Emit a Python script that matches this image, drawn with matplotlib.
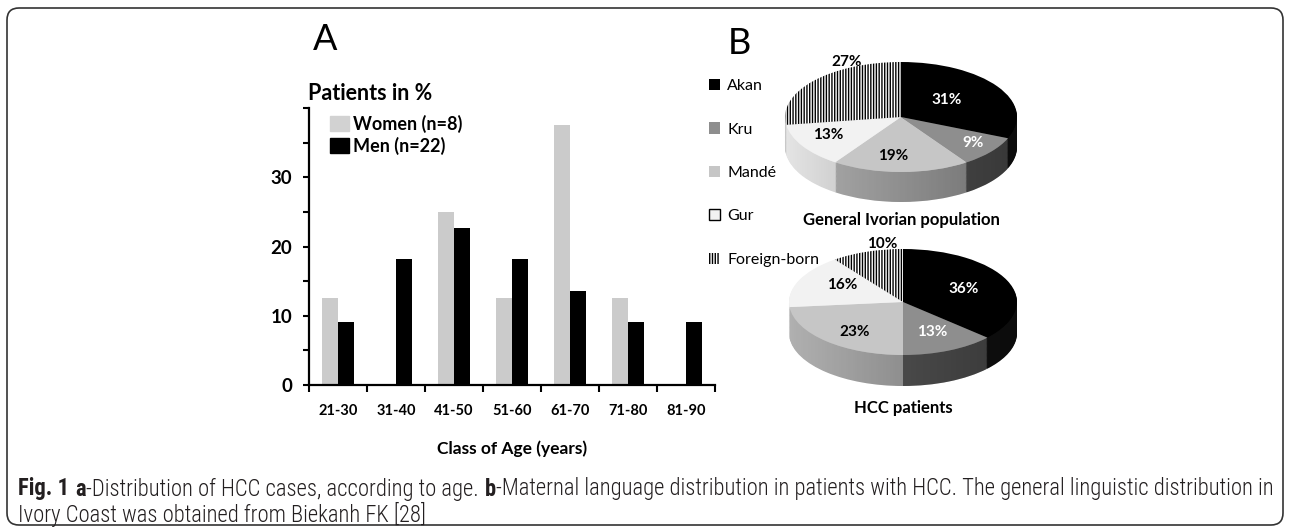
import numpy as np
import matplotlib
matplotlib.use("Agg")
import matplotlib.pyplot as plt
from matplotlib.patches import Patch, FancyBboxPatch, Polygon
from matplotlib import font_manager

plt.rcParams['font.family'] = ['Lato', 'DejaVu Sans']
plt.rcParams['hatch.linewidth'] = 1.0

# panel A data
age_classes = ['21-30', '31-40', '41-50', '51-60', '61-70', '71-80', '81-90']
women_pct = [12.5, 0, 25, 12.5, 37.5, 12.5, 0]
men_pct = [9.1, 18.2, 22.7, 18.2, 13.6, 9.1, 9.1]

# panel B data
languages = ['Akan', 'Kru', 'Mandé', 'Gur', 'Foreign-born']
general_pct = [31, 9, 19, 13, 27]
hcc_pct = [36, 13, 23, 16, 10]

W, H = 1290, 528
fig = plt.figure(figsize=(W / 100, H / 100), dpi=100)


def px_axes(left, top, width, height):
    # axes from pixel box (top-left origin)
    return fig.add_axes([left / W, 1 - (top + height) / H, width / W, height / H])


# ---- A: bar chart
ax = px_axes(309, 108, 406, 277)
x = np.arange(len(age_classes))
bw = 0.28
ax.bar(x - bw / 2, women_pct, bw, color='#cbcbcb', linewidth=0)
ax.bar(x + bw / 2, men_pct, bw, color='black', linewidth=0)
ax.set_xlim(-0.5, len(age_classes) - 0.5)
ax.set_ylim(0, 40)
for s in ['top', 'right']:
    ax.spines[s].set_visible(False)
for s in ['left', 'bottom']:
    ax.spines[s].set_linewidth(1.6)
ax.set_yticks([0, 10, 20, 30])
ax.set_yticks([5, 15, 25, 35, 40], minor=True)
ax.set_yticklabels(['0', '10', '20', '30'], fontsize=13.5, fontweight='bold')
ax.tick_params(axis='y', which='both', length=4, width=1.5, pad=8)
ax.set_xticks(x)
ax.set_xticklabels(age_classes, fontsize=10.5, fontweight='bold')
ax.set_xticks(np.arange(len(age_classes) + 1) - 0.5, minor=True)
ax.tick_params(axis='x', which='major', length=0, pad=14)
ax.tick_params(axis='x', which='minor', length=5, width=1.5)
ax.set_xlabel('Class of Age (years)', fontsize=12.5, fontweight='bold', labelpad=16)
ax.legend(handles=[Patch(color='#d2d2d2', label='Women (n=8)'),
                   Patch(color='black', label='Men (n=22)')],
          loc='upper left', bbox_to_anchor=(0.052, 0.975), frameon=False,
          prop=dict(weight='bold', size=13), handlelength=1.05, handleheight=0.9,
          handletextpad=0.2, labelspacing=0.2, borderpad=0, borderaxespad=0)

fig.text(308 / W, 1 - 94 / H, 'Patients in %', fontsize=15.5, fontweight='bold',
         ha='left', va='center')
fig.text(313 / W, 1 - 39 / H, 'A', fontsize=26, ha='left', va='center')
fig.text(728 / W, 1 - 43 / H, 'B', fontsize=26, ha='left', va='center')

# ---- B: 3D-looking pies
top_colors = ['#000000', '#8e8e8e', '#c6c6c6', '#f2f2f2', 'white']
side_colors = ['#141414', '#5a5a5a', '#b0b0b0', '#e4e4e4', '#c8c8c8']
label_colors = ['white', 'white', 'black', 'black', 'black']
HATCH = '||||||'

gen_label_xy = [(0.39, 0.31), (0.62, -0.47), (-0.07, -0.71), (-0.63, -0.33), (-0.47, 1.0)]
hcc_label_xy = [(0.53, 0.25), (0.26, -0.57), (-0.42, -0.57), (-0.53, 0.32), (-0.18, 1.09)]

shade = np.zeros((1, 256, 4))
shade[..., 3] = np.linspace(0.0, 0.38, 256)


def draw_pie(cx, cy, rx, ry, depth_px, values, label_xy, title, title_y):
    d = depth_px / ry
    pax = px_axes(cx - 1.05 * rx, cy - 1.05 * ry, 2.1 * rx, (2.1 + d) * ry)
    for off in np.linspace(d, 0.02, 36):
        pax.pie(values, colors=side_colors, startangle=90, counterclock=False,
                center=(0, -off), wedgeprops=dict(linewidth=0))
    # light from the left on the rim
    t = np.linspace(np.pi, 2 * np.pi, 100)
    rim = np.vstack([np.c_[np.cos(t), np.sin(t)],
                     np.c_[np.cos(t[::-1]), np.sin(t[::-1]) - d]])
    clip = Polygon(rim, closed=True, transform=pax.transData, facecolor='none')
    img = pax.imshow(shade, extent=(-1, 1, -1 - d, 0), aspect='auto', zorder=1.5)
    img.set_clip_path(clip)
    wedges, _ = pax.pie(values, colors=top_colors, startangle=90, counterclock=False,
                        wedgeprops=dict(linewidth=0, zorder=2))
    wedges[-1].set_edgecolor('black')
    wedges[-1].set_hatch(HATCH)
    for v, (lx, ly), c in zip(values, label_xy, label_colors):
        pax.text(lx, ly, f'{v}%', color=c, fontsize=11, fontweight='bold',
                 ha='center', va='center', zorder=3)
    pax.set_aspect('auto')
    pax.set_xlim(-1.05, 1.05)
    pax.set_ylim(-1.05 - d, 1.05)
    pax.axis('off')
    fig.text(cx / W, 1 - title_y / H, title, fontsize=12, fontweight='bold',
             ha='center', va='center')


draw_pie(901, 117, 116, 55, 30, general_pct, gen_label_xy,
         'General Ivorian population', 220)
draw_pie(903, 302, 114, 53, 31, hcc_pct, hcc_label_xy, 'HCC patients', 408)

leg_handles = [Patch(facecolor=c, edgecolor=('black' if i >= 3 else c),
                     hatch=(HATCH if i == 4 else None), linewidth=(1 if i == 3 else 0),
                     label=lab)
               for i, (c, lab) in enumerate(zip(top_colors, languages))]
fig.legend(handles=leg_handles, loc='upper left',
           bbox_to_anchor=(709 / W, 1 - 79 / H), frameon=False, fontsize=11.5,
           handlelength=0.7, handleheight=0.7, handletextpad=0.45,
           labelspacing=1.83, borderpad=0, borderaxespad=0)

# ---- frame and caption
fig.patches.append(FancyBboxPatch((7, 3), 1276, 517,
                                  boxstyle='round,pad=0,rounding_size=12',
                                  transform=None, facecolor='none',
                                  edgecolor='#333333', linewidth=1.2))

names = {f.name for f in font_manager.fontManager.ttflist}
cap_font = next(n for n in ['Liberation Sans Narrow', 'Roboto Condensed', 'Lato', 'DejaVu Sans']
                if n in names)
renderer = fig.canvas.get_renderer()


def draw_runs(runs, x0, y, size):
    cur = x0
    out = []
    for s, wt in runs:
        if s == ' ':
            cur += 0.27 * size * 100 / 72
            continue
        t = fig.text(cur / W, 1 - y / H, s, fontsize=size, fontweight=wt,
                     ha='left', va='center', family=[cap_font, 'DejaVu Sans'],
                     color='#231f20')
        cur += t.get_window_extent(renderer=renderer).width
        out.append(t)
    return out, cur - x0


line1 = [('Fig. 1', 'bold'), (' ', None), ('a', 'bold'),
         ('-Distribution of HCC cases, according to age.', 'light'), (' ', None),
         ('b', 'bold'),
         ('-Maternal language distribution in patients with HCC. The general linguistic distribution in',
          'light')]
line2 = [('Ivory Coast was obtained from Biekanh FK [28]', 'light')]

texts, width = draw_runs(line1, 18, 489, 13)
for t in texts:
    t.remove()
cap_size = 13 * 1247 / width
draw_runs(line1, 18, 489, cap_size)
draw_runs(line2, 18, 514, cap_size)

fig.savefig('out.png', dpi=100)
